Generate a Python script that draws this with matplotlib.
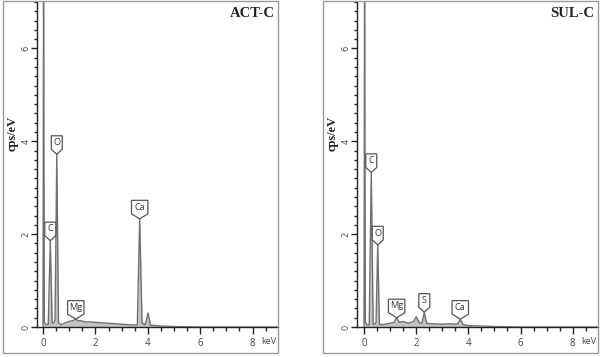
import numpy as np
import matplotlib
matplotlib.use('Agg')
import matplotlib.pyplot as plt
from matplotlib.patches import Polygon, Rectangle
from matplotlib.transforms import ScaledTranslation
from matplotlib.ticker import MultipleLocator

# EDS spectra (keV, cps/eV)
act_e = [0.0, 0.02, 0.05, 0.12, 0.2, 0.277, 0.35, 0.42, 0.46, 0.525, 0.59, 0.68,
         0.8, 1.0, 1.15, 1.25, 1.33, 1.5, 1.6, 1.74, 2.0, 2.5, 3.0, 3.5, 3.6,
         3.69, 3.78, 3.9, 4.01, 4.1, 4.5, 5.0, 6.0, 9.0]
act_c = [0.0, 7.5, 0.1, 0.05, 0.06, 1.86, 0.08, 0.1, 0.15, 3.72, 0.1, 0.05,
         0.08, 0.12, 0.14, 0.17, 0.14, 0.13, 0.11, 0.11, 0.1, 0.08, 0.06, 0.04, 0.05,
         2.33, 0.08, 0.05, 0.3, 0.04, 0.02, 0.01, 0.0, 0.0]

sul_e = [0.0, 0.02, 0.05, 0.12, 0.2, 0.277, 0.35, 0.42, 0.46, 0.525, 0.59, 0.7,
         1.0, 1.15, 1.25, 1.35, 1.5, 1.7, 1.9, 2.0, 2.12, 2.22, 2.31, 2.4, 2.6,
         3.0, 3.3, 3.5, 3.6, 3.69, 3.8, 4.0, 5.0, 6.0, 9.0]
sul_c = [0.0, 7.5, 0.1, 0.04, 0.05, 3.33, 0.06, 0.06, 0.1, 1.77, 0.06, 0.05,
         0.08, 0.1, 0.2, 0.1, 0.12, 0.08, 0.12, 0.22, 0.09, 0.08, 0.32, 0.08, 0.07,
         0.06, 0.07, 0.06, 0.07, 0.17, 0.05, 0.03, 0.01, 0.0, 0.0]

act_lab = ['C', 'O', 'Mg', 'Ca']
act_lab_e = [0.277, 0.525, 1.25, 3.69]
act_lab_h = [1.86, 3.72, 0.17, 2.33]

sul_lab = ['C', 'O', 'Mg', 'S', 'Ca']
sul_lab_e = [0.277, 0.525, 1.25, 2.31, 3.69]
sul_lab_h = [3.33, 1.77, 0.2, 0.32, 0.17]

fig = plt.figure(figsize=(6, 3.57), dpi=100)

# panel frames
for x0 in [3 / 600, 323 / 600]:
    fig.patches.append(Rectangle((x0, 4 / 357), 275 / 600, 352 / 357, transform=fig.transFigure,
                                 fill=False, ec='#9a9a9a', lw=1.0))


def pin(ax, x, y, s):
    hw = 0.055 if len(s) == 1 else 0.082
    tr = fig.dpi_scale_trans + ScaledTranslation(x, y, ax.transData)
    verts = [(0, 0), (-hw, 0.05), (-hw, 0.185), (hw, 0.185), (hw, 0.05)]
    ax.add_patch(Polygon(verts, closed=True, transform=tr, fc='white', ec='#555555',
                         lw=0.9, clip_on=False, zorder=5))
    ax.text(0, 0.118, s, transform=tr, ha='center', va='center', fontsize=6.6,
            color='#333333', family='Open Sans', zorder=6)


def panel(left, xmin, e, c, labs, lab_e, lab_h, title, ylab_x):
    ax = fig.add_axes([left, 30 / 357, 241 / 600, 325 / 357])
    ax.fill_between(e, c, 0, color='#c4c4c4', lw=0, zorder=2)
    ax.plot(e, c, color='#707070', lw=1.0, zorder=3)
    ax.set_xlim(xmin, 8.97)
    ax.set_ylim(0, 7)
    for sp in ['top', 'right']:
        ax.spines[sp].set_visible(False)
    for sp in ['left', 'bottom']:
        ax.spines[sp].set_color('#222222')
        ax.spines[sp].set_linewidth(1.0)
    ax.xaxis.set_major_locator(MultipleLocator(2))
    ax.xaxis.set_minor_locator(MultipleLocator(0.5))
    ax.yaxis.set_major_locator(MultipleLocator(2))
    ax.yaxis.set_minor_locator(MultipleLocator(0.2))
    ax.tick_params(axis='x', which='major', length=5, width=1, color='#222222',
                   labelsize=7, labelcolor='#444444', pad=3)
    ax.tick_params(axis='x', which='minor', length=3, width=1, color='#222222')
    ax.tick_params(axis='y', which='major', length=4.5, width=1, color='#222222',
                   labelsize=6, labelcolor='#555555', pad=0.3, labelrotation=90)
    ax.tick_params(axis='y', which='minor', length=2.2, width=1, color='#222222')
    for t in ax.get_yticklabels():
        t.set_va('center')
    ax.set_xticks([0, 2, 4, 6, 8])
    ax.set_xticklabels(['0', '2', '4', '6', '8'], family='Open Sans')
    ax.set_facecolor('white')
    for s, x, y in zip(labs, lab_e, lab_h):
        pin(ax, x, y, s)
    ax.text(0.995, -0.045, 'keV', transform=ax.transAxes, ha='right', va='center',
            fontsize=6.5, color='#444444', family='Open Sans')
    ax.text(0.985, 0.985, title, transform=ax.transAxes, ha='right', va='top',
            fontsize=10.5, fontweight='bold', family='Liberation Serif', color='#222222')
    fig.text(ylab_x, 1 - 133 / 357, 'cps/eV', rotation=90, ha='center', va='center',
             fontsize=9, fontweight='bold', family='Liberation Serif', color='#222222')
    return ax


panel(37 / 600, -0.23, act_e, act_c, act_lab, act_lab_e, act_lab_h, 'ACT-C', 12.5 / 600)
panel(357 / 600, -0.27, sul_e, sul_c, sul_lab, sul_lab_e, sul_lab_h, 'SUL-C', 333 / 600)

fig.savefig('out.png', dpi=100)
